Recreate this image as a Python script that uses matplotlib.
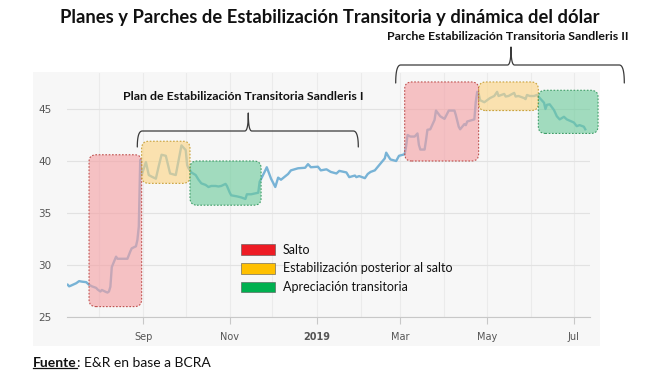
import numpy as np
import pandas as pd
import matplotlib
matplotlib.use("Agg")
import matplotlib.pyplot as plt
import matplotlib.dates as mdates
from matplotlib.patches import FancyBboxPatch, Rectangle

# tipo de cambio (BCRA)
fechas = [
    "2018-07-10", "2018-07-11", "2018-07-12", "2018-07-16", "2018-07-18", "2018-07-20",
    "2018-07-23", "2018-07-25", "2018-07-27", "2018-07-30", "2018-07-31", "2018-08-02",
    "2018-08-03", "2018-08-06", "2018-08-07", "2018-08-08", "2018-08-09", "2018-08-10",
    "2018-08-13", "2018-08-14", "2018-08-17", "2018-08-21", "2018-08-23", "2018-08-24",
    "2018-08-27", "2018-08-28", "2018-08-29", "2018-08-30", "2018-08-31", "2018-09-03",
    "2018-09-05", "2018-09-07", "2018-09-10", "2018-09-12", "2018-09-14", "2018-09-17",
    "2018-09-20", "2018-09-24", "2018-09-26", "2018-09-28", "2018-10-01", "2018-10-02",
    "2018-10-03", "2018-10-05", "2018-10-08", "2018-10-10", "2018-10-12", "2018-10-15",
    "2018-10-17", "2018-10-19", "2018-10-22", "2018-10-24", "2018-10-26", "2018-10-29",
    "2018-10-30", "2018-11-01", "2018-11-02", "2018-11-06", "2018-11-09", "2018-11-12",
    "2018-11-13", "2018-11-16", "2018-11-21", "2018-11-22", "2018-11-26", "2018-11-27",
    "2018-11-30", "2018-12-03", "2018-12-05", "2018-12-07", "2018-12-12", "2018-12-14",
    "2018-12-19", "2018-12-24", "2018-12-26", "2018-12-28", "2019-01-02", "2019-01-04",
    "2019-01-08", "2019-01-11", "2019-01-15", "2019-01-17", "2019-01-22", "2019-01-24",
    "2019-01-28", "2019-01-29", "2019-01-31", "2019-02-04", "2019-02-06", "2019-02-08",
    "2019-02-11", "2019-02-14", "2019-02-18", "2019-02-19", "2019-02-21", "2019-02-22",
    "2019-02-26", "2019-02-28", "2019-03-04", "2019-03-05", "2019-03-06", "2019-03-08",
    "2019-03-11", "2019-03-13", "2019-03-14", "2019-03-15", "2019-03-18", "2019-03-19",
    "2019-03-20", "2019-03-22", "2019-03-25", "2019-03-26", "2019-03-29", "2019-04-01",
    "2019-04-04", "2019-04-08", "2019-04-09", "2019-04-11", "2019-04-12", "2019-04-15",
    "2019-04-16", "2019-04-17", "2019-04-22", "2019-04-23", "2019-04-24", "2019-04-25",
    "2019-04-26", "2019-04-29", "2019-05-02", "2019-05-03", "2019-05-06", "2019-05-08",
    "2019-05-09", "2019-05-13", "2019-05-14", "2019-05-16", "2019-05-20", "2019-05-21",
    "2019-05-23", "2019-05-27", "2019-05-28", "2019-05-29", "2019-05-31", "2019-06-03",
    "2019-06-05", "2019-06-07", "2019-06-10", "2019-06-11", "2019-06-12", "2019-06-14",
    "2019-06-17", "2019-06-19", "2019-06-21", "2019-06-24", "2019-06-26", "2019-07-01",
    "2019-07-03", "2019-07-05", "2019-07-08", "2019-07-09",
]
dolar = [
    28.1, 27.95, 28.0, 28.25, 28.45, 28.4,
    28.35, 28.1, 27.95, 27.8, 27.65, 27.45,
    27.6, 27.4, 27.35, 27.45, 27.9, 29.8,
    30.8, 30.6, 30.6, 30.6, 31.3, 31.6,
    31.8, 32.4, 33.7, 40.1, 38.65, 39.9,
    38.65, 38.5, 38.3, 39.5, 40.6, 40.5,
    38.8, 38.65, 40.1, 41.5, 41.05, 39.6,
    39.3, 38.9, 38.65, 38.2, 37.85, 37.7,
    37.5, 37.6, 37.6, 37.55, 37.6, 37.8,
    37.6, 36.95, 36.7, 36.6, 36.5, 36.35,
    36.8, 36.8, 36.95, 38.0, 39.1, 39.4,
    38.3, 37.5, 38.4, 38.2, 38.75, 39.1,
    39.3, 39.35, 39.7, 39.4, 39.45, 39.1,
    39.2, 38.95, 38.8, 39.05, 38.9, 38.45,
    38.6, 38.45, 38.55, 38.35, 38.75, 38.95,
    39.1, 39.6, 40.25, 40.8, 40.35, 40.15,
    40.0, 40.5, 40.65, 41.4, 42.5, 42.35,
    42.35, 42.65, 41.55, 41.1, 41.1, 42.0,
    43.0, 43.05, 43.95, 44.85, 44.3, 44.05,
    44.85, 44.85, 44.4, 43.3, 43.05, 43.55,
    43.45, 43.8, 44.0, 45.7, 46.65, 46.5,
    45.85, 45.65, 45.95, 46.05, 46.25, 46.65,
    46.25, 46.45, 46.2, 46.25, 46.55, 46.2,
    46.25, 46.05, 45.95, 46.35, 46.25, 46.25,
    46.35, 46.05, 45.6, 45.0, 45.4, 45.45,
    44.9, 44.3, 44.0, 44.25, 44.0, 43.7,
    43.35, 43.45, 43.3, 43.05,
]

# zonas resaltadas
zona_inicio = ["2018-07-25", "2018-08-31", "2018-10-04", "2019-03-04", "2019-04-25", "2019-06-06"]
zona_fin = ["2018-08-31", "2018-10-04", "2018-11-23", "2019-04-25", "2019-06-06", "2019-07-18"]
zona_min = [26.0, 37.85, 35.75, 40.0, 44.85, 42.65]
zona_max = [40.6, 41.9, 40.0, 47.6, 47.6, 46.8]
zona_tipo = [0, 1, 2, 0, 1, 2]

leyenda = ["Salto", "Estabilización posterior al salto", "Apreciación transitoria"]
tick_fechas = ["2018-09-01", "2018-11-01", "2019-01-01", "2019-03-01", "2019-05-01", "2019-07-01"]
tick_labels = ["Sep", "Nov", "2019", "Mar", "May", "Jul"]
y_ticks = [25, 30, 35, 40, 45]

relleno = ["#f4a0a4", "#fcd584", "#6ccb9b"]
borde = ["#c0504d", "#c9a23c", "#3f9e68"]
ley_color = ["#ee1c25", "#ffc000", "#00b050"]

FONT = "Lato"

fig = plt.figure(figsize=(6.5, 3.9), dpi=100)

# fondo gris del panel (coordenadas en pixeles)
bg = fig.add_axes([0, 0, 1, 1], zorder=0)
bg.set_xlim(0, 650)
bg.set_ylim(390, 0)
bg.axis("off")
bg.add_patch(Rectangle((33, 72), 567, 274, facecolor="#f7f7f7", edgecolor="none"))

ax = fig.add_axes([67 / 650, 1 - 317 / 390, 523 / 650, 244.4 / 390], zorder=1)
ax.patch.set_alpha(0)

x = mdates.date2num(pd.to_datetime(fechas))
ax.plot(x, dolar, color="#78b3d6", lw=1.7, zorder=2, solid_joinstyle="round")

ax.set_xlim(mdates.date2num(pd.Timestamp("2018-07-09 12:00")),
            mdates.date2num(pd.Timestamp("2019-07-12 08:00")))
ax.set_ylim(25, 48.5)

ax.set_xticks(mdates.date2num(pd.to_datetime(tick_fechas)))
ax.set_xticklabels(tick_labels)
ax.xaxis.set_minor_locator(mdates.MonthLocator())
ax.set_yticks(y_ticks)
ax.set_yticklabels([str(v) for v in y_ticks])

for lbl in ax.get_xticklabels():
    if lbl.get_text() == "2019":
        lbl.set_fontweight("bold")
        lbl.set_color("#333333")

ax.tick_params(axis="x", which="major", length=5, color="#c8c8c8", pad=6,
               labelsize=7, labelcolor="#555555")
ax.tick_params(axis="x", which="minor", length=0)
ax.tick_params(axis="y", length=0, pad=11, labelsize=7.5, labelcolor="#555555")
for s in ["top", "right", "left"]:
    ax.spines[s].set_visible(False)
ax.spines["bottom"].set_color("#c8c8c8")
ax.grid(axis="y", color="#e2e2e2", lw=0.8)
ax.grid(axis="x", which="both", color="#ebebeb", lw=0.8)
ax.set_axisbelow(True)

# cajas redondeadas: radio en pixeles convertido a datos
px_x = ax.transData.transform((1, 0))[0] - ax.transData.transform((0, 0))[0]
px_y = ax.transData.transform((0, 1))[1] - ax.transData.transform((0, 0))[1]
r = 7 * 100 / fig.dpi
rx = r / px_x
ry = r / px_y
for ini, fin, lo, hi, t in zip(zona_inicio, zona_fin, zona_min, zona_max, zona_tipo):
    x0 = mdates.date2num(pd.Timestamp(ini))
    x1 = mdates.date2num(pd.Timestamp(fin))
    caja = FancyBboxPatch((x0, lo), x1 - x0, hi - lo,
                          boxstyle=f"round,pad=0,rounding_size={rx}",
                          mutation_aspect=ry / rx,
                          facecolor=relleno[t], alpha=0.62, edgecolor="none",
                          zorder=3, clip_on=False)
    ax.add_patch(caja)
    contorno = FancyBboxPatch((x0, lo), x1 - x0, hi - lo,
                              boxstyle=f"round,pad=0,rounding_size={rx}",
                              mutation_aspect=ry / rx,
                              facecolor="none", edgecolor=borde[t], lw=0.8,
                              linestyle=(0, (1.5, 1.5)), zorder=4, clip_on=False)
    ax.add_patch(contorno)

# capa superior para textos y llaves
top = fig.add_axes([0, 0, 1, 1], zorder=2)
top.set_xlim(0, 650)
top.set_ylim(390, 0)
top.axis("off")
top.patch.set_alpha(0)


def bez(p0, p1, p2, n=16):
    t = np.linspace(0, 1, n)[:, None]
    return (1 - t) ** 2 * np.array(p0) + 2 * (1 - t) * t * np.array(p1) + t ** 2 * np.array(p2)


def llave(x0, x1, y, y_ext, xc, y_tip, w=5, wc=3.5):
    partes = [
        bez((x0, y_ext), (x0, y), (x0 + w, y)),
        np.array([[x0 + w, y], [xc - wc, y]]),
        bez((xc - wc, y), (xc, y), (xc, y_tip)),
        bez((xc, y_tip), (xc, y), (xc + wc, y)),
        np.array([[xc + wc, y], [x1 - w, y]]),
        bez((x1 - w, y), (x1, y), (x1, y_ext)),
    ]
    p = np.vstack(partes)
    top.plot(p[:, 0], p[:, 1], color="#3a3a3a", lw=0.9, solid_capstyle="round")


llave(137.3, 358.3, 131, 147, 248.3, 113)
llave(395.7, 624.3, 65, 83, 511, 47)

top.text(330, 17, "Planes y Parches de Estabilización Transitoria y dinámica del dólar",
         ha="center", va="center", fontsize=13.2, fontweight="bold", family=FONT, color="#111111")
top.text(508, 36, "Parche Estabilización Transitoria Sandleris II",
         ha="center", va="center", fontsize=8.9, fontweight="bold", family=FONT, color="#111111")
top.text(243, 96, "Plan de Estabilización Transitoria Sandleris I",
         ha="center", va="center", fontsize=8.9, fontweight="bold", family=FONT, color="#111111")

# leyenda
ley_y = [244, 263, 281.5]
for yy, c, txt in zip(ley_y, ley_color, leyenda):
    top.add_patch(Rectangle((241, yy), 34, 10.5, facecolor=c, edgecolor="#555555", lw=0.4))
    top.text(283, yy + 5.5, txt, ha="left", va="center", fontsize=9, family=FONT, color="#111111")

# fuente
f1 = top.text(33, 363, "Fuente", ha="left", va="center", fontsize=10, fontweight="bold",
              family=FONT, color="#111111")
fig.canvas.draw()
bb = f1.get_window_extent().transformed(top.transData.inverted())
top.plot([bb.x0, bb.x1], [bb.y0 - 1.0, bb.y0 - 1.0], color="#111111", lw=0.9)
top.text(bb.x1, 363, ": E&R en base a BCRA", ha="left", va="center", fontsize=10,
         family=FONT, color="#111111")

fig.savefig("out.png", dpi=100)
